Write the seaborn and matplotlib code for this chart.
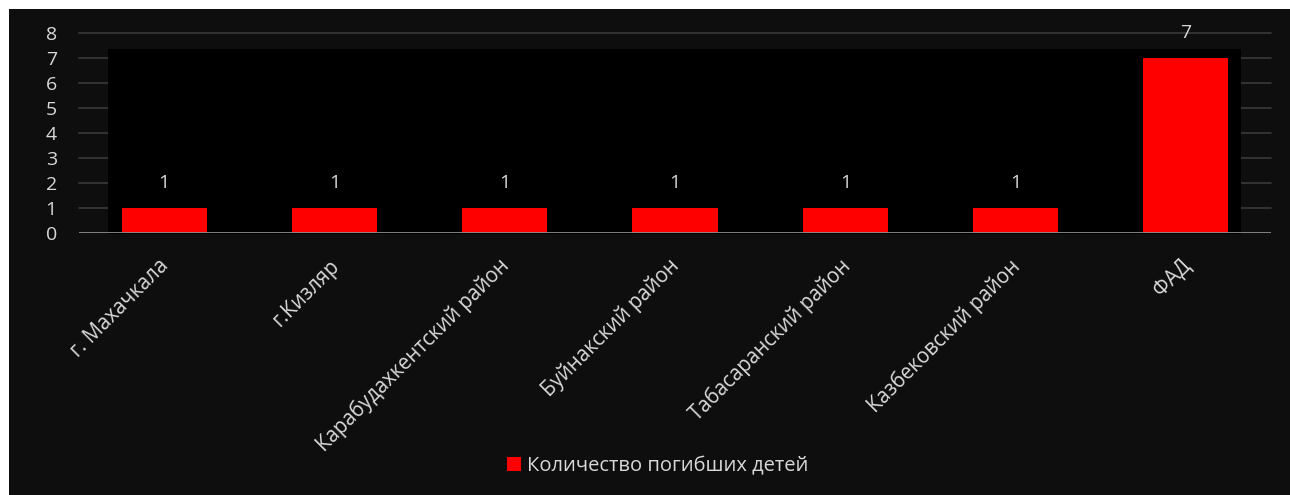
import matplotlib
matplotlib.use("Agg")
import matplotlib.pyplot as plt
import matplotlib.transforms as mtransforms
from matplotlib.patches import Rectangle, Patch
import seaborn as sns
import pandas as pd

# data
districts = ["г. Махачкала", "г.Кизляр", "Карабудахкентский район",
             "Буйнакский район", "Табасаранский район", "Казбековский район", "ФАД"]
deaths = [1, 1, 1, 1, 1, 1, 7]
series_name = "Количество погибших детей"
y_ticks = [0, 1, 2, 3, 4, 5, 6, 7, 8]

df = pd.DataFrame({"district": districts, "deaths": deaths})

sns.set_theme(style="dark")
plt.rcParams["font.family"] = ["Open Sans", "DejaVu Sans"]

W, H = 1290, 495
fig = plt.figure(figsize=(W / 100, H / 100), dpi=100)
fig.patch.set_facecolor("white")

# dark chart area (white strip left and top as in the screenshot)
fig.patches.append(Rectangle((9 / W, 0), 1 - 9 / W, 1 - 9 / H, transform=fig.transFigure,
                             facecolor="#0e0e0e", edgecolor="none", zorder=0))

ax = fig.add_axes([79 / W, 1 - 233 / H, 1192 / W, 200 / H])
ax.set_facecolor("none")

# black plot-area rectangle covering the gridlines in the middle
fig.patches.append(Rectangle((108 / W, 1 - 234 / H), (1241 - 108) / W, (234 - 49) / H,
                             transform=fig.transFigure, facecolor="black",
                             edgecolor="none", zorder=1))
ax.set_zorder(2)

sns.barplot(data=df, x="district", y="deaths", color="#ff0000", width=0.5,
            saturation=1, linewidth=0, edgecolor="none", ax=ax, zorder=3)

ax.set_ylim(0, 8)
ax.set_yticks(y_ticks)
ax.set_xlim(-0.5, len(districts) - 0.5)
ax.set_xlabel("")
ax.set_ylabel("")

for s in ax.spines.values():
    s.set_visible(False)

# gridlines drawn beneath the black rectangle
for v in y_ticks[1:]:
    fig.add_artist(plt.Line2D([79 / W, 1271 / W],
                              [1 - (233 - 25 * v) / H] * 2,
                              transform=fig.transFigure, color="#3a3a3a",
                              linewidth=1.2, zorder=0.5))
ax.axhline(0, color="#8c8c8c", linewidth=2, zorder=4)

ax.tick_params(axis="y", length=0, pad=16, labelsize=14, labelcolor="#d9d9d9")
ax.tick_params(axis="x", length=0, pad=16, labelsize=14.8, labelcolor="#d9d9d9")
shift = mtransforms.ScaledTranslation(-6 / 100, 0, fig.dpi_scale_trans)
for t in ax.get_xticklabels():
    t.set_rotation(45)
    t.set_horizontalalignment("right")
    t.set_rotation_mode("anchor")
    t.set_transform(t.get_transform() + shift)

for i, v in enumerate(deaths):
    ax.annotate(str(v), (i, v), xytext=(0, 18), textcoords="offset points",
                ha="center", va="center", fontsize=14, color="#d9d9d9",
                annotation_clip=False)

fig.legend(handles=[Patch(facecolor="#ff0000", edgecolor="none", label=series_name)],
           loc="center", bbox_to_anchor=(658 / W, 1 - 466 / H), frameon=False,
           fontsize=14.5, labelcolor="#d9d9d9", handlelength=0.7, handleheight=0.7,
           handletextpad=0.3)

fig.savefig("out.png", dpi=100, facecolor=fig.get_facecolor())
